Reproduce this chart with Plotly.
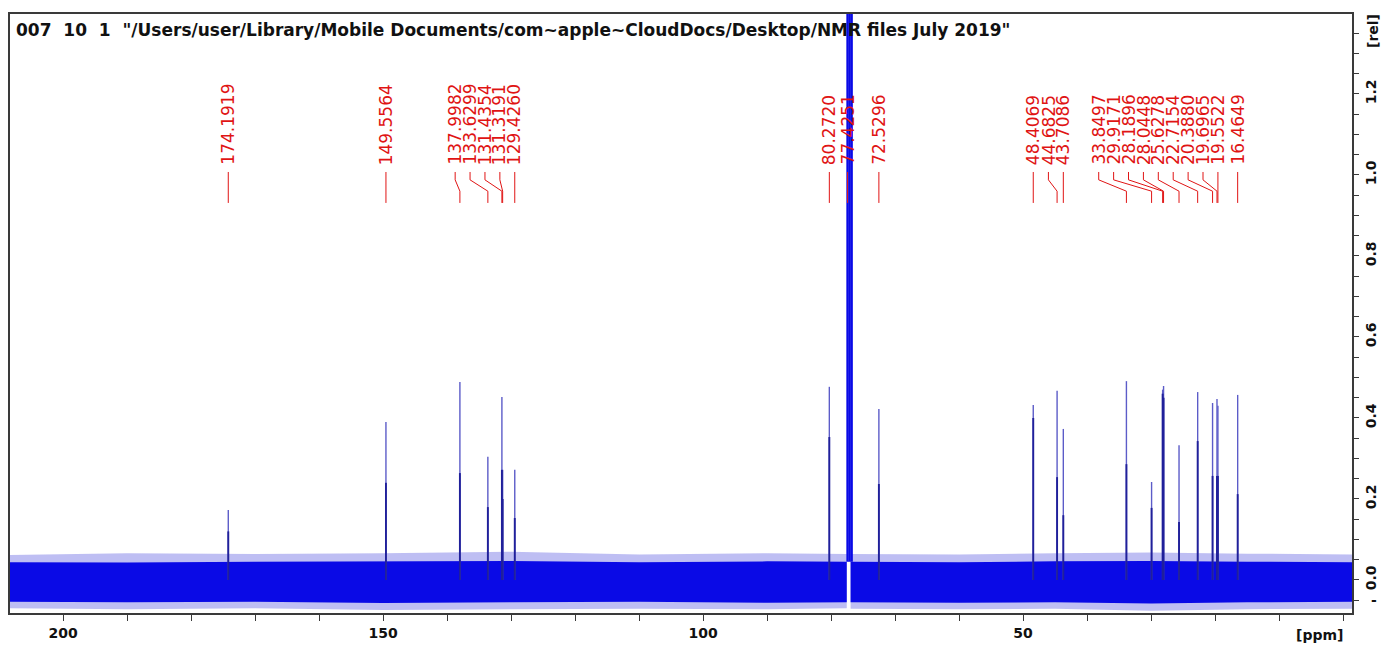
import numpy as np
import plotly.graph_objects as go

# ---------------- data ----------------
title_text = '007  10  1  "/Users/user/Library/Mobile Documents/com~apple~CloudDocs/Desktop/NMR files July 2019"'

peak_ppm = [174.1919, 149.5564, 137.9982, 133.6299, 131.4354, 131.3191, 129.4260,
            80.2720, 77.4251, 72.5296, 48.4069, 44.6825, 43.7086,
            33.8497, 29.9171, 28.1896, 28.0448, 25.6278, 22.7154, 20.3880,
            19.6965, 19.5522, 16.4649]
peak_height = [0.173, 0.390, 0.489, 0.304, 0.452, 0.272, 0.272,
               0.477, 4.000, 0.422, 0.432, 0.467, 0.373,
               0.491, 0.242, 0.470, 0.479, 0.333, 0.464, 0.437,
               0.447, 0.430, 0.457]
peak_inner = [0.120, 0.240, 0.264, 0.180, 0.272, 0.200, 0.153,
              0.353, 4.000, 0.237, 0.400, 0.254, 0.160,
              0.286, 0.178, 0.460, 0.450, 0.143, 0.343, 0.257,
              0.257, 0.257, 0.212]

# CDCl3 solvent triplet (off scale)
solvent_ppm = [77.4251, 77.1050, 76.7850]
solvent_height = [4.0, 4.2, 4.0]
solvent_base = 0.045

# baseline noise envelope (core band and outer fringe), two segments split at the solvent
noise_ppm_a = [208.3, 190.0, 170.0, 150.0, 130.0, 110.0, 90.0, 77.55]
noise_hi_a = [0.044, 0.043, 0.045, 0.046, 0.047, 0.044, 0.046, 0.045]
noise_lo_a = [-0.054, -0.055, -0.054, -0.057, -0.055, -0.054, -0.056, -0.055]
fringe_hi_a = [0.062, 0.066, 0.064, 0.066, 0.070, 0.063, 0.066, 0.064]
fringe_lo_a = [-0.070, -0.072, -0.070, -0.074, -0.073, -0.071, -0.072, -0.070]

noise_ppm_b = [76.95, 60.0, 45.0, 30.0, 15.0, -1.4]
noise_hi_b = [0.045, 0.044, 0.046, 0.047, 0.045, 0.044]
noise_lo_b = [-0.055, -0.056, -0.055, -0.058, -0.055, -0.054]
fringe_hi_b = [0.064, 0.063, 0.066, 0.068, 0.065, 0.063]
fringe_lo_b = [-0.071, -0.072, -0.071, -0.076, -0.072, -0.071]

x_ticks = list(range(0, 201, 10))
x_labels = [str(v) if (v % 50 == 0 and v > 0) else "" for v in x_ticks]
y_ticks = [round(v, 2) for v in np.arange(-0.05, 1.3501, 0.05)]
y_labels = [f"{v:.1f}" if abs(v / 0.2 - round(v / 0.2)) < 1e-6 else "" for v in y_ticks]

# ---------------- layout constants ----------------
W, H = 1384, 648
ML, MR, MT, MB = 10, 32, 14, 35
x_range = [208.3, -1.4]
y_range = [-0.0815, 1.3975]

BLUE = "#0a0ae6"
RED = "#e01414"
FRAME = "#3a3a3a"

plot_w = W - ML - MR
ppm_per_px = (x_range[0] - x_range[1]) / plot_w
gap = 14.9 * ppm_per_px

# ---- label placement: spread overlapping labels, anchored at the right-most peak of a group
lab = np.array(peak_ppm)
order = list(np.argsort(-lab))
u = [-lab[i] for i in order]
groups = [[k] for k in range(len(u))]


def place(g):
    right = max(u[j] for j in g)
    n = len(g)
    return [right - gap * (n - 1 - k) for k in range(n)]


changed = True
while changed:
    changed = False
    pos = [place(g) for g in groups]
    for a in range(len(groups) - 1):
        if pos[a + 1][0] - pos[a][-1] < gap - 1e-9:
            groups[a] = groups[a] + groups[a + 1]
            del groups[a + 1]
            changed = True
            break
label_pos = {}
for g in groups:
    for j, p in zip(g, place(g)):
        label_pos[order[j]] = -p

# connector geometry (y in data units)
Y_TXT = 1.0200
Y_C0, Y_C1, Y_C2, Y_C3 = 1.0074, 0.988, 0.960, 0.931

fig = go.Figure()

# noise fringe + core bands
for xs, hi, lo, fhi, flo in [
    (noise_ppm_a, noise_hi_a, noise_lo_a, fringe_hi_a, fringe_lo_a),
    (noise_ppm_b, noise_hi_b, noise_lo_b, fringe_hi_b, fringe_lo_b),
]:
    fig.add_trace(go.Scatter(x=xs + xs[::-1], y=fhi + flo[::-1], fill="toself",
                             fillcolor="rgba(40,40,215,0.30)", line=dict(width=0),
                             mode="lines", hoverinfo="skip", showlegend=False))
    fig.add_trace(go.Scatter(x=xs + xs[::-1], y=hi + lo[::-1], fill="toself",
                             fillcolor=BLUE, line=dict(width=0),
                             mode="lines", hoverinfo="skip", showlegend=False))

# peaks: light full-height line and darker lower part
px_, py_, dx_, dy_ = [], [], [], []
for p, h, hin in zip(peak_ppm, peak_height, peak_inner):
    if h > 2:
        continue
    px_ += [p, p, None]
    py_ += [0.0, h, None]
    dx_ += [p, p, None]
    dy_ += [0.0, hin, None]
fig.add_trace(go.Scatter(x=px_, y=py_, mode="lines", line=dict(color="#5c5cc8", width=1.4),
                         hoverinfo="skip", showlegend=False))
fig.add_trace(go.Scatter(x=dx_, y=dy_, mode="lines", line=dict(color="#20209a", width=1.9),
                         hoverinfo="skip", showlegend=False))

# solvent
sx, sy = [], []
for p, h in zip(solvent_ppm, solvent_height):
    sx += [p, p, None]
    sy += [solvent_base, h, None]
fig.add_trace(go.Scatter(x=sx, y=sy, mode="lines", line=dict(color=BLUE, width=2.4),
                         hoverinfo="skip", showlegend=False))

# label connectors
cx, cy = [], []
for i, p in enumerate(peak_ppm):
    lp = label_pos[i]
    cx += [lp, lp, p, p, None]
    cy += [Y_C0, Y_C1, Y_C2, Y_C3, None]
fig.add_trace(go.Scatter(x=cx, y=cy, mode="lines", line=dict(color=RED, width=1),
                         hoverinfo="skip", showlegend=False))

annotations = []
for i, p in enumerate(peak_ppm):
    annotations.append(dict(x=label_pos[i], y=Y_TXT, xref="x", yref="y",
                            text=f"{p:.4f}", textangle=-90, showarrow=False,
                            xanchor="center", yanchor="bottom",
                            font=dict(family="DejaVu Sans", size=17, color=RED)))

annotations.append(dict(x=0, y=1, xref="paper", yref="paper", xanchor="left", yanchor="top",
                        xshift=4, yshift=-4, text=title_text, showarrow=False,
                        font=dict(family="DejaVu Sans", size=17, color="#111111", weight="bold")))
annotations.append(dict(x=1, y=0.9716, xref="paper", yref="paper", xanchor="center",
                        yanchor="middle", xshift=21, text="[rel]", textangle=-90, showarrow=False,
                        font=dict(family="DejaVu Sans", size=14, color="#111111", weight="bold")))
annotations.append(dict(x=0.976, y=0, xref="paper", yref="paper", xanchor="center",
                        yanchor="top", yshift=-12, text="[ppm]", showarrow=False,
                        font=dict(family="DejaVu Sans", size=14, color="#111111", weight="bold")))
annotations.append(dict(x=1, y=-0.05, xref="paper", yref="y", xanchor="center",
                        yanchor="middle", xshift=22, text="-", showarrow=False,
                        font=dict(family="DejaVu Sans", size=14, color="#111111", weight="bold")))

fig.update_layout(
    width=W, height=H,
    margin=dict(l=ML, r=MR, t=MT, b=MB, autoexpand=False),
    paper_bgcolor="white", plot_bgcolor="white",
    showlegend=False,
    annotations=annotations,
    xaxis=dict(range=x_range, showgrid=False, zeroline=False,
               showline=True, mirror=True, linecolor=FRAME, linewidth=1.5,
               ticks="outside", ticklen=6, tickwidth=1.2, tickcolor=FRAME,
               tickmode="array", tickvals=x_ticks, ticktext=x_labels,
               tickfont=dict(family="DejaVu Sans", size=14, color="#111111", weight="bold")),
    yaxis=dict(range=y_range, side="right", showgrid=False, zeroline=False,
               showline=True, mirror=True, linecolor=FRAME, linewidth=1.5,
               ticks="outside", ticklen=5, tickwidth=1.2, tickcolor=FRAME,
               tickmode="array", tickvals=y_ticks, ticktext=y_labels, tickangle=-90,
               tickfont=dict(family="DejaVu Sans", size=14, color="#111111", weight="bold")),
)

fig.write_html("out.html")
